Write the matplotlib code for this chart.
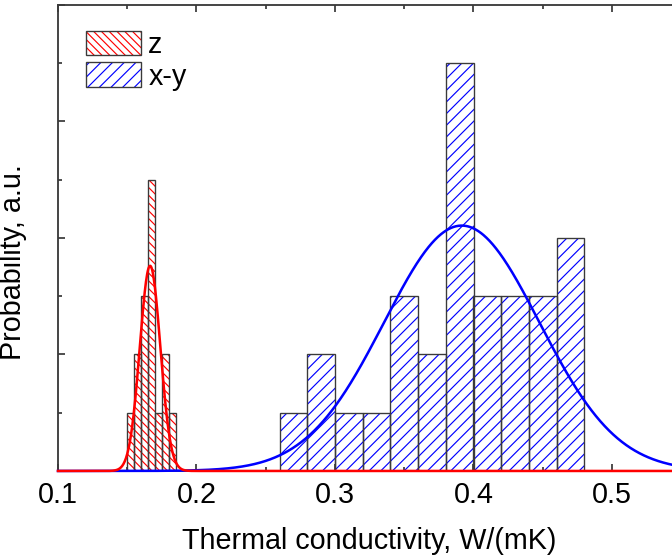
import numpy as np
import matplotlib
matplotlib.use("Agg")
import matplotlib.pyplot as plt
from matplotlib.patches import Patch
from matplotlib.ticker import MultipleLocator, FormatStrFormatter

plt.rcParams['font.family'] = ['Liberation Sans', 'DejaVu Sans']
plt.rcParams['hatch.linewidth'] = 0.6

# Histogram of thermal conductivity measurements
z_left = [0.150, 0.155, 0.160, 0.165, 0.170, 0.175, 0.180]
z_counts = [1, 2, 3, 5, 1, 2, 1]
z_width = 0.005

xy_left = [0.26, 0.28, 0.30, 0.32, 0.34, 0.36, 0.38, 0.40, 0.42, 0.44, 0.46]
xy_counts = [1, 2, 1, 1, 3, 2, 7, 3, 3, 3, 4]
xy_width = 0.02

# Gaussian fit parameters: centre, sigma, peak height
z_fit = (0.1665, 0.0074, 3.52)
xy_fit = (0.3915, 0.0560, 4.21)

x_range = (0.1, 0.55)
y_range = (0, 8)

z_hatch = '\\' * 6
xy_hatch = '////'

DPI = 140
W, H = 672, 558
fig = plt.figure(figsize=(W / DPI, (H + 0.3) / DPI), dpi=DPI)
ax_left, ax_bottom, ax_top = 58, 471, 5
ax_w = (x_range[1] - x_range[0]) / 0.1 * 138.5
ax = fig.add_axes([ax_left / W, (H - ax_bottom) / H, ax_w / W, (ax_bottom - ax_top) / H])

edge = '#3a3a3a'
fs = 14.8
font_px = fs * DPI / 72

# hatched fills (hatch takes the edge colour), then grey outlines on top
ax.bar(z_left, z_counts, width=z_width, align='edge', facecolor='none',
       edgecolor='red', linewidth=0, hatch=z_hatch, zorder=2)
ax.bar(z_left, z_counts, width=z_width, align='edge', facecolor='none',
       edgecolor=edge, linewidth=0.7, zorder=3)
ax.bar(xy_left, xy_counts, width=xy_width, align='edge', facecolor='none',
       edgecolor='blue', linewidth=0, hatch=xy_hatch, zorder=2)
ax.bar(xy_left, xy_counts, width=xy_width, align='edge', facecolor='none',
       edgecolor=edge, linewidth=0.7, zorder=3)

xs = np.linspace(x_range[0], x_range[1], 1000)
for (mu, sig, amp), col in ((xy_fit, 'blue'), (z_fit, 'red')):
    ax.plot(xs, amp * np.exp(-0.5 * ((xs - mu) / sig) ** 2), color=col,
            linewidth=1.3, zorder=4, clip_on=False)

ax.set_xlim(*x_range)
ax.set_ylim(*y_range)
ax.xaxis.set_major_locator(MultipleLocator(0.1))
ax.xaxis.set_minor_locator(MultipleLocator(0.05))
ax.yaxis.set_major_locator(MultipleLocator(2))
ax.yaxis.set_minor_locator(MultipleLocator(1))
ax.xaxis.set_major_formatter(FormatStrFormatter('%.1f'))
ax.tick_params(which='both', direction='in', top=True, right=True,
               labelleft=False, color=edge, width=0.9)
ax.tick_params(which='major', length=3.8, labelsize=fs, pad=5)
ax.tick_params(which='minor', length=2.2)
for s in ax.spines.values():
    s.set_linewidth(0.95)
    s.set_color(edge)

ax.set_xlabel('Thermal conductivity, W/(mK)', fontsize=fs, labelpad=9.5)
ax.set_ylabel('Probability, a.u.', fontsize=fs)
ax.yaxis.set_label_coords((27 - ax_left) / ax_w, (ax_bottom - 262) / (ax_bottom - ax_top))

handles = [
    (Patch(facecolor='none', edgecolor='red', linewidth=0, hatch=z_hatch),
     Patch(facecolor='none', edgecolor=edge, linewidth=0.7)),
    (Patch(facecolor='none', edgecolor='blue', linewidth=0, hatch=xy_hatch),
     Patch(facecolor='none', edgecolor=edge, linewidth=0.7)),
]
fig.legend(handles, ['z', 'x-y'], loc='upper left',
           bbox_to_anchor=(86 / W, 1 - 31 / H), frameon=False, fontsize=fs,
           borderpad=0, borderaxespad=0, handlelength=55 / font_px,
           handleheight=27 / font_px, labelspacing=0.12, handletextpad=0.25)

fig.savefig('out.png', dpi=DPI)
